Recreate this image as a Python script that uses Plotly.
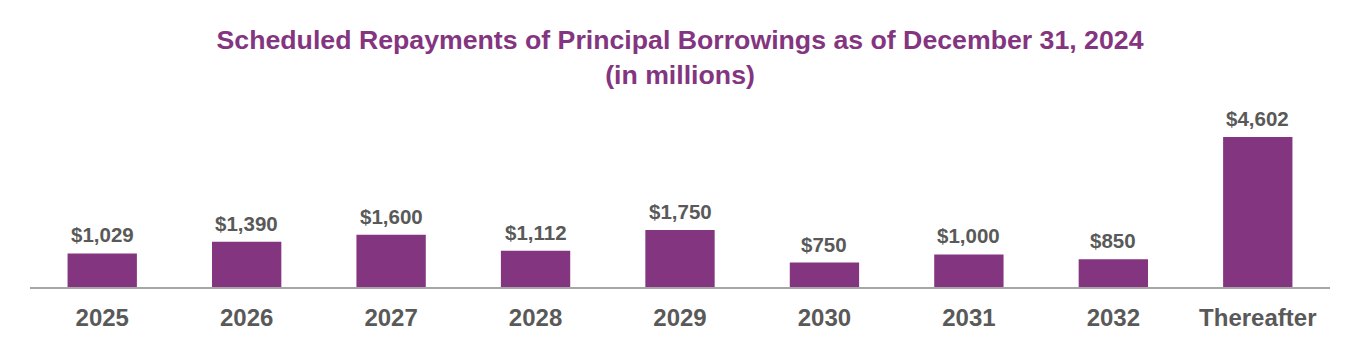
import plotly.graph_objects as go

categories = ["2025", "2026", "2027", "2028", "2029", "2030", "2031", "2032", "Thereafter"]
values = [1029, 1390, 1600, 1112, 1750, 750, 1000, 850, 4602]
labels = ["$1,029", "$1,390", "$1,600", "$1,112", "$1,750", "$750", "$1,000", "$850", "$4,602"]

PURPLE = "#84357F"
GREY = "#595959"
FONT = "Liberation Sans, Arial, sans-serif"

fig = go.Figure()
fig.add_trace(go.Bar(
    x=categories, y=values,
    marker=dict(color=PURPLE, line=dict(width=0)),
    width=0.48,
    hoverinfo="skip",
))

for i, (v, t) in enumerate(zip(values, labels)):
    fig.add_annotation(
        x=i, y=v, text="<b>%s</b>" % t, showarrow=False,
        yanchor="bottom", yshift=5,
        font=dict(family=FONT, size=20.5, color=GREY),
    )

fig.update_layout(
    width=1360, height=360,
    margin=dict(l=22, r=38, t=102, b=81),
    paper_bgcolor="white", plot_bgcolor="white",
    showlegend=False,
    title=dict(
        text="<b>Scheduled Repayments of Principal Borrowings as of December 31, 2024<br>(in millions)</b>",
        x=0.5, xanchor="center", xref="paper",
        y=1 - 41 / 360, yanchor="middle", yref="container",
        font=dict(family=FONT, size=26.7, color=PURPLE),
    ),
    xaxis=dict(
        type="category", range=[-0.5, len(categories) - 0.5],
        showline=True, linecolor="#A6A6A6", linewidth=2,
        ticks="", showgrid=False,
        tickfont=dict(family=FONT, size=24, color=GREY),
        ticklabelstandoff=8,
        tickprefix="<b>", ticksuffix="</b>",
    ),
    yaxis=dict(visible=False, range=[0, 5430], showgrid=False, zeroline=False),
)

fig.write_html("out.html")
